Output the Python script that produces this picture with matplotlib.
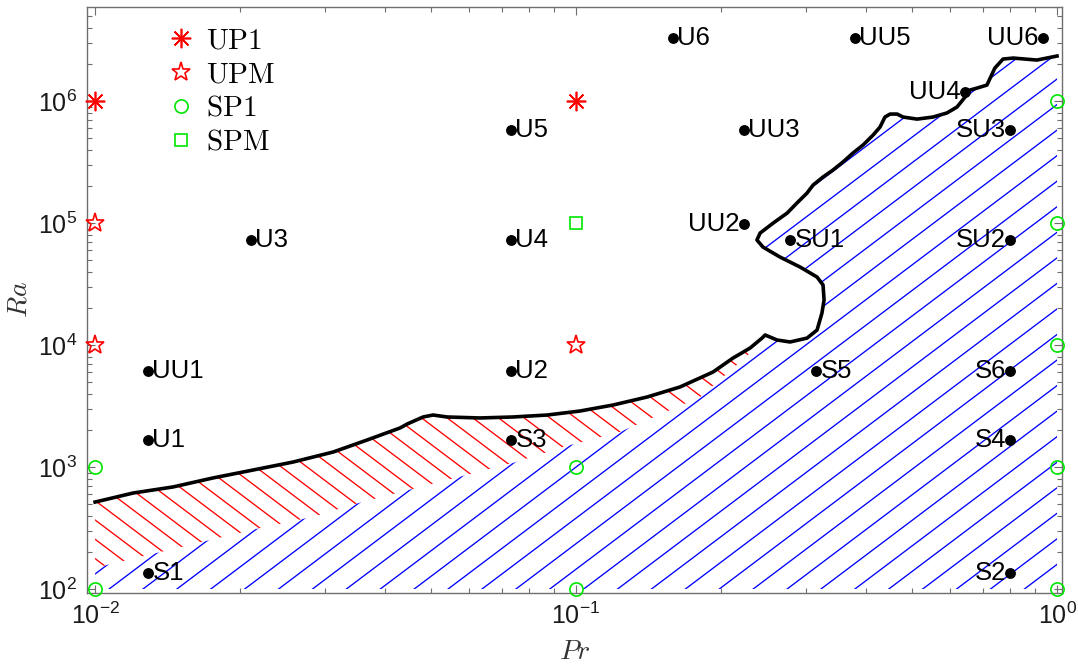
import numpy as np
import matplotlib
matplotlib.use('Agg')
import matplotlib.pyplot as plt
from matplotlib.path import Path
from matplotlib.patches import PathPatch
from matplotlib.collections import LineCollection
from matplotlib.font_manager import FontProperties

plt.rcParams['font.family'] = ['Liberation Sans', 'DejaVu Sans']

# ---------------- data ----------------
# stability boundary (Pr, Ra)
curve_pr = [0.0100, 0.0120, 0.01452, 0.01758, 0.02129, 0.02582, 0.03126, 0.03675,
            0.04305, 0.04456, 0.04808, 0.05044, 0.05395, 0.0631, 0.0739, 0.0871,
            0.1019, 0.1194, 0.1406, 0.1645, 0.1927, 0.2120, 0.2300, 0.2436,
            0.2472, 0.2618, 0.2786, 0.3022, 0.3170, 0.3245, 0.3278, 0.3262,
            0.3170, 0.2923, 0.2655, 0.2447, 0.2377, 0.2414, 0.2570, 0.2748,
            0.2879, 0.3022, 0.3110, 0.3262, 0.3420, 0.3588, 0.3765, 0.3950,
            0.4145, 0.4285, 0.4387, 0.4497, 0.4650, 0.4786, 0.5117, 0.5521,
            0.5902, 0.6194, 0.6439, 0.6592, 0.6823, 0.7149, 0.7425, 0.7722,
            0.8110, 0.9081, 1.0]
curve_ra = [516, 612, 686, 813, 944, 1099, 1327, 1663,
            2089, 2251, 2570, 2667, 2570, 2523, 2570, 2667,
            2877, 3222, 3750, 4530, 6010, 7820, 9440, 11400,
            12080, 10990, 10590, 11400, 13270, 18280, 23380, 31050,
            36060, 43550, 52600, 63500, 72600, 82800, 100000, 120800,
            145900, 176200, 204700, 238400, 271700, 316200, 375000, 435600,
            526000, 612000, 739000, 782000, 782000, 739000, 711000, 739000,
            798000, 893000, 1.078e6, 1.231e6, 1.278e6, 1.352e6, 1.863e6, 2.209e6,
            2.250e6, 2.168e6, 2.339e6]
n_red = 23  # boundary points bordering the red-hatched wedge

# division between red and blue hatched zones
split_pr = [0.0100, 0.01734, 0.02203, 0.02825, 0.03589, 0.0739, 0.0940, 0.1233, 0.1811, 0.228]
split_ra = [149, 252, 316, 389, 516, 1079, 1459, 1936, 3750, 8280]

# simulation cases
case_names = ['U1', 'UU1', 'S1', 'U3', 'U5', 'U4', 'U2', 'S3', 'U6', 'UU5', 'UU6',
              'UU3', 'UU4', 'SU3', 'UU2', 'SU1', 'SU2', 'S5', 'S6', 'S4', 'S2']
case_pr = [0.0129, 0.0129, 0.0129, 0.0211, 0.0733, 0.0733, 0.0733, 0.0733, 0.159, 0.38, 0.935,
           0.223, 0.644, 0.80, 0.223, 0.279, 0.80, 0.316, 0.80, 0.80, 0.80]
case_ra = [1660, 6100, 135, 72600, 578000, 72600, 6100, 1660, 3.28e6, 3.28e6, 3.28e6,
           578000, 1.18e6, 578000, 98000, 72600, 72600, 6100, 6100, 1660, 135]
left_labels = ['UU6', 'UU4', 'SU3', 'UU2', 'SU2', 'S6', 'S4', 'S2']

up1_pr = [0.01, 0.1]
up1_ra = [1e6, 1e6]
upm_pr = [0.01, 0.01, 0.1]
upm_ra = [1e5, 1e4, 1e4]
sp1_pr = [0.01, 0.01, 0.1, 0.1, 1, 1, 1, 1, 1]
sp1_ra = [1e3, 1e2, 1e3, 1e2, 1e6, 1e5, 1e4, 1e3, 1e2]
spm_pr = [0.1]
spm_ra = [1e5]
legend_labels = ['UP1', 'UPM', 'SP1', 'SPM']

xlim = (0.00962, 1.024)
ylim = (92.7, 5.9e6)
hatch_ra_floor = 100

# ---------------- figure ----------------
W_PX, H_PX = 1078, 664
fig = plt.figure(figsize=(W_PX / 100, H_PX / 100), dpi=100)
ax = fig.add_axes([87 / W_PX, 1 - 593 / H_PX, 975 / W_PX, 586 / H_PX])
ax.set_xscale('log')
ax.set_yscale('log')
ax.set_xlim(*xlim)
ax.set_ylim(*ylim)

# hatched regions
cpr = np.array(curve_pr); cra = np.array(curve_ra, dtype=float)
spr = np.array(split_pr); sra = np.array(split_ra, dtype=float)

red_poly = np.vstack([np.column_stack([cpr[:n_red], cra[:n_red]]),
                      np.column_stack([spr[::-1], sra[::-1]])])
blue_poly = np.vstack([[[cpr[0], hatch_ra_floor]],
                       np.column_stack([spr, sra]),
                       np.column_stack([cpr[n_red - 1:], cra[n_red - 1:]]),
                       [[cpr[-1], hatch_ra_floor]]])

red_patch = PathPatch(Path(red_poly, closed=False), facecolor='none', edgecolor='none',
                      transform=ax.transData)
blue_patch = PathPatch(Path(blue_poly, closed=False), facecolor='none', edgecolor='none',
                       transform=ax.transData)
ax.add_patch(red_patch)
ax.add_patch(blue_patch)

aw, ah = 975.0, 586.0
t = np.tan(np.radians(37))

def hatch(x_ref, spacing, up):
    segs = []
    k0 = int(np.floor((x_ref + ah / t) / spacing)) + 2
    k1 = int(np.ceil((aw + ah / t - x_ref) / spacing)) + 2
    for k in range(-k0, k1):
        x0 = x_ref + k * spacing
        if up:
            segs.append([(x0 / aw, 0), ((x0 + ah / t) / aw, 1)])
        else:
            segs.append([((x0 - ah / t) / aw, 1), (x0 / aw, 0)])
    return segs

blue_lc = LineCollection(hatch(627, 33.9, True), colors='#0000ff', linewidths=0.95,
                         transform=ax.transAxes, zorder=1)
blue_lc.set_clip_path(blue_patch)
ax.add_collection(blue_lc)
red_lc = LineCollection(hatch(259, 25.66, False), colors='#ff0000', linewidths=0.95,
                        transform=ax.transAxes, zorder=1)
red_lc.set_clip_path(red_patch)
ax.add_collection(red_lc)

# boundary curve
ax.plot(curve_pr, curve_ra, color='black', lw=2.6, zorder=3, solid_joinstyle='round')

# markers
h1, = ax.plot(up1_pr, up1_ra, ls='none', marker=(8, 2, 0), ms=14, mec='#ff0000', mew=1.2,
              clip_on=False, zorder=4)
h2, = ax.plot(upm_pr, upm_ra, ls='none', marker='*', ms=14, mfc='none', mec='#ff0000', mew=1.2,
              clip_on=False, zorder=4)
h3, = ax.plot(sp1_pr, sp1_ra, ls='none', marker='o', ms=9.5, mfc='none', mec='#00e600', mew=1.2,
              clip_on=False, zorder=4)
h4, = ax.plot(spm_pr, spm_ra, ls='none', marker='s', ms=8, mfc='none', mec='#00e600', mew=1.2,
              clip_on=False, zorder=4)

ax.plot(case_pr, case_ra, ls='none', marker='o', ms=6.8, color='black', zorder=5)
for name, p, r in zip(case_names, case_pr, case_ra):
    if name in left_labels:
        ax.annotate(name, (p, r), xytext=(-3, 0), textcoords='offset points',
                    ha='right', va='center', fontsize=18.5, color='black', zorder=6)
    else:
        ax.annotate(name, (p, r), xytext=(3, 0), textcoords='offset points',
                    ha='left', va='center', fontsize=18.5, color='black', zorder=6)

# legend
leg = ax.legend([h1, h2, h3, h4], [r'$\mathrm{%s}$' % s for s in legend_labels],
                loc='upper left', bbox_to_anchor=(0.053, 1.012), frameon=False,
                prop=FontProperties(size=21, math_fontfamily='cm'),
                handlelength=1.1, handletextpad=0.32, labelspacing=0.2, numpoints=1)

# axes styling
spine_col = '#6e6e6e'
for s in ax.spines.values():
    s.set_color(spine_col)
    s.set_linewidth(1.0)
ax.tick_params(which='both', direction='in', top=True, right=True, color=spine_col,
               labelcolor='#1a1a1a', labelsize=18)
ax.tick_params(which='major', length=6, width=0.8, pad=7)
ax.tick_params(which='minor', length=3.5, width=0.8)
ax.set_xticks([1e-2, 1e-1, 1e0])
ax.set_yticks([1e2, 1e3, 1e4, 1e5, 1e6])

ax.set_xlabel(r'$Pr$', fontsize=20, color='#333333', math_fontfamily='cm', labelpad=7)
ax.set_ylabel(r'$Ra$', fontsize=20, color='#333333', math_fontfamily='cm', labelpad=4)

fig.savefig('out.png', dpi=100)
